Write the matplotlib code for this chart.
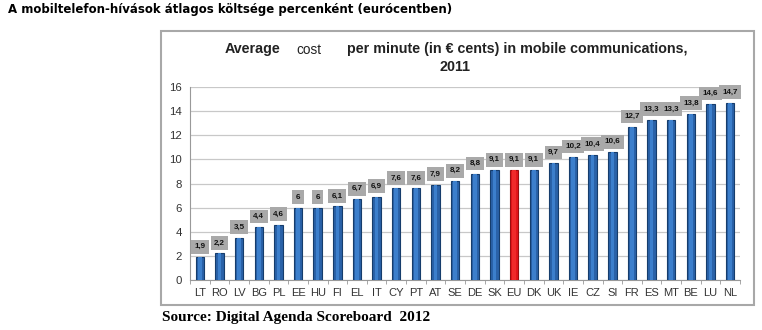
import matplotlib.pyplot as plt
from matplotlib.patches import Rectangle
import numpy as np

countries = ["LT", "RO", "LV", "BG", "PL", "EE", "HU", "FI", "EL", "IT", "CY", "PT", "AT", "SE",
             "DE", "SK", "EU", "DK", "UK", "IE", "CZ", "SI", "FR", "ES", "MT", "BE", "LU", "NL"]
cost = [1.9, 2.2, 3.5, 4.4, 4.6, 6, 6, 6.1, 6.7, 6.9, 7.6, 7.6, 7.9, 8.2,
        8.8, 9.1, 9.1, 9.1, 9.7, 10.2, 10.4, 10.6, 12.7, 13.3, 13.3, 13.8, 14.6, 14.7]
yticks = [0, 2, 4, 6, 8, 10, 12, 14, 16]

W, H = 762, 330
fig = plt.figure(figsize=(W / 100, H / 100), dpi=100)

def px(x, y):
    # pixel coords (top-left origin) -> figure fraction
    return x / W, 1 - y / H

# outer frame of the embedded chart
fig.patches.append(Rectangle(px(161, 305), (754 - 161) / W, (305 - 31) / H,
                             transform=fig.transFigure, fill=False,
                             edgecolor="#a8a8a8", linewidth=1.5))

left, right, top, bottom = 190, 740, 87, 280
ax = fig.add_axes([left / W, 1 - bottom / H, (right - left) / W, (bottom - top) / H])

x = np.arange(len(countries))
colors = ["#e3161b" if c == "EU" else "#2a62a8" for c in countries]
edges = ["#9a0e10" if c == "EU" else "#163d6c" for c in countries]
ax.bar(x, cost, width=0.43, color=colors, edgecolor=edges, linewidth=0.8, zorder=3)
# lighter core for the cylinder look
cores = ["#f02a2a" if c == "EU" else "#3c7fcc" for c in countries]
ax.bar(x, cost, width=0.18, color=cores, linewidth=0, zorder=4)

for xi, v in zip(x, cost):
    ax.annotate(f"{v:g}".replace(".", ","), (xi, v), xytext=(0, 7.5), textcoords="offset points",
                ha="center", va="center", fontsize=5.8, fontweight="bold",
                family="Liberation Sans", color="#111111", zorder=5,
                bbox=dict(boxstyle="square,pad=0.42", fc="#a9a9a9", ec="none"))

ax.set_xlim(-0.5, len(countries) - 0.5)
ax.set_ylim(0, 16)
ax.set_yticks(yticks)
ax.set_xticks(x)
ax.set_xticklabels(countries)
ax.set_xticks(np.arange(-0.5, len(countries), 1), minor=True)
ax.tick_params(axis="x", which="major", length=0, pad=6, labelsize=8, labelcolor="#333333")
ax.tick_params(axis="x", which="minor", length=3, color="#999999", direction="out")
ax.tick_params(axis="y", length=0, pad=6, labelsize=8.2, labelcolor="#333333")
for lab in ax.get_xticklabels() + ax.get_yticklabels():
    lab.set_family("Liberation Sans")
ax.grid(axis="y", color="#c8c8c8", linewidth=0.9, zorder=0)
for s in ["top", "right"]:
    ax.spines[s].set_visible(False)
ax.spines["left"].set_color("#999999")
ax.spines["bottom"].set_color("#999999")

# chart title (the word "cost" is set in a plainer font in the original)
fs = 10.3
fig.text(*px(225, 49), "Average", ha="left", va="center", fontsize=fs,
         fontweight="bold", family="Liberation Sans", color="#222222")
fig.text(*px(296, 50), "cost", ha="left", va="center", fontsize=fs - 0.5,
         family="Liberation Sans", color="#222222")
fig.text(*px(347, 49), "per minute (in € cents) in mobile communications,", ha="left",
         va="center", fontsize=fs, fontweight="bold", family="Liberation Sans", color="#222222")
fig.text(*px(455, 67), "2011", ha="center", va="center", fontsize=fs,
         fontweight="bold", family="Liberation Sans", color="#222222")

fig.text(*px(8, 10), "A mobiltelefon-hívások átlagos költsége percenként (eurócentben)",
         ha="left", va="center", fontsize=8.5, fontweight="bold", family="DejaVu Sans")
fig.text(*px(162, 317), "Source: Digital Agenda Scoreboard  2012", ha="left", va="center",
         fontsize=11, fontweight="bold", family="Liberation Serif")

fig.savefig("out.png", dpi=100)
